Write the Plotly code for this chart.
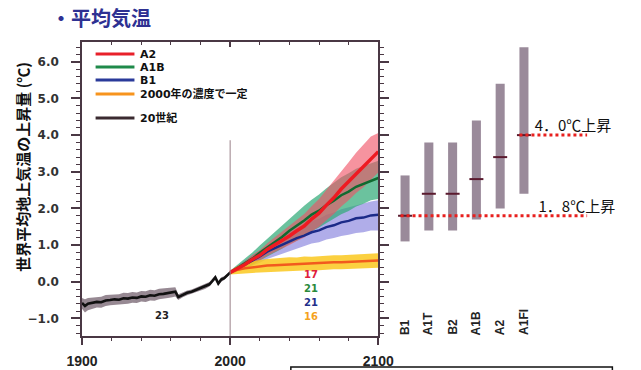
import plotly.graph_objects as go

# ---------------- data ----------------
# 20th-century global mean surface temperature change (deg C)
years_20c = [1900, 1902, 1904, 1907, 1910, 1913, 1916, 1919, 1922, 1925, 1928, 1931,
             1934, 1937, 1940, 1943, 1946, 1949, 1952, 1955, 1958, 1961, 1963, 1965,
             1968, 1971, 1974, 1977, 1980, 1983, 1986, 1988, 1990, 1992, 1994, 1996,
             1998, 2000]
mean_20c = [-0.58, -0.66, -0.60, -0.58, -0.55, -0.56, -0.51, -0.50, -0.48, -0.49, -0.45, -0.46,
            -0.43, -0.44, -0.40, -0.41, -0.37, -0.38, -0.34, -0.33, -0.30, -0.28, -0.27, -0.42,
            -0.35, -0.30, -0.27, -0.22, -0.17, -0.14, -0.07, 0.02, 0.12, -0.05, 0.06, 0.10,
            0.17, 0.25]
low_20c = [-0.74, -0.84, -0.78, -0.73, -0.70, -0.71, -0.66, -0.64, -0.63, -0.63, -0.60, -0.60,
           -0.57, -0.58, -0.54, -0.55, -0.51, -0.52, -0.48, -0.47, -0.44, -0.42, -0.40, -0.50,
           -0.42, -0.37, -0.33, -0.28, -0.23, -0.20, -0.13, -0.04, 0.06, -0.11, 0.00, 0.05,
           0.12, 0.21]
high_20c = [-0.44, -0.48, -0.44, -0.43, -0.40, -0.41, -0.36, -0.35, -0.33, -0.34, -0.30, -0.31,
            -0.28, -0.29, -0.25, -0.26, -0.22, -0.23, -0.19, -0.18, -0.15, -0.14, -0.15, -0.34,
            -0.28, -0.24, -0.21, -0.16, -0.11, -0.08, -0.01, 0.08, 0.18, 0.01, 0.12, 0.15,
            0.22, 0.29]

# Scenario projections 2000-2100
years_proj = [2000, 2005, 2010, 2015, 2020, 2025, 2030, 2035, 2040, 2045, 2050,
              2055, 2060, 2065, 2070, 2075, 2080, 2085, 2090, 2095, 2100]
a2_mean = [0.25, 0.36, 0.47, 0.61, 0.72, 0.88, 1.00, 1.14, 1.25, 1.39, 1.52,
           1.71, 1.87, 2.09, 2.29, 2.53, 2.73, 2.96, 3.14, 3.36, 3.55]
a2_low = [0.20, 0.29, 0.38, 0.49, 0.58, 0.71, 0.80, 0.91, 1.00, 1.11, 1.21,
          1.37, 1.50, 1.68, 1.85, 2.05, 2.22, 2.42, 2.58, 2.78, 2.98]
a2_high = [0.30, 0.43, 0.56, 0.73, 0.86, 1.05, 1.21, 1.38, 1.52, 1.69, 1.85,
           2.06, 2.26, 2.51, 2.75, 3.02, 3.26, 3.52, 3.73, 3.96, 4.06]
a1b_mean = [0.25, 0.37, 0.51, 0.63, 0.79, 0.93, 1.09, 1.22, 1.39, 1.52, 1.67,
            1.83, 1.94, 2.09, 2.21, 2.36, 2.46, 2.59, 2.67, 2.77, 2.83]
a1b_low = [0.20, 0.28, 0.38, 0.46, 0.58, 0.68, 0.80, 0.90, 1.03, 1.12, 1.25,
           1.38, 1.48, 1.60, 1.71, 1.84, 1.93, 2.05, 2.13, 2.22, 2.26]
a1b_high = [0.30, 0.46, 0.64, 0.80, 0.99, 1.17, 1.37, 1.53, 1.73, 1.89, 2.07,
            2.24, 2.38, 2.55, 2.69, 2.85, 2.96, 3.08, 3.16, 3.24, 3.30]
b1_mean = [0.25, 0.36, 0.46, 0.59, 0.69, 0.82, 0.91, 1.02, 1.09, 1.19, 1.26,
           1.35, 1.40, 1.49, 1.54, 1.62, 1.66, 1.73, 1.75, 1.81, 1.83]
b1_low = [0.20, 0.28, 0.35, 0.45, 0.52, 0.62, 0.69, 0.78, 0.84, 0.92, 0.97,
          1.04, 1.08, 1.15, 1.19, 1.25, 1.28, 1.33, 1.35, 1.40, 1.40]
b1_high = [0.30, 0.44, 0.57, 0.73, 0.86, 1.01, 1.13, 1.26, 1.35, 1.46, 1.55,
           1.66, 1.72, 1.83, 1.89, 1.98, 2.03, 2.10, 2.13, 2.19, 2.22]
const_mean = [0.25, 0.33, 0.37, 0.40, 0.42, 0.44, 0.45, 0.46, 0.48, 0.47, 0.50,
              0.49, 0.51, 0.52, 0.53, 0.53, 0.54, 0.55, 0.56, 0.56, 0.58]
const_low = [0.20, 0.22, 0.23, 0.24, 0.25, 0.26, 0.27, 0.27, 0.29, 0.28, 0.31,
             0.30, 0.32, 0.33, 0.34, 0.34, 0.35, 0.36, 0.37, 0.37, 0.38]
const_high = [0.30, 0.43, 0.51, 0.56, 0.59, 0.62, 0.64, 0.65, 0.67, 0.66, 0.69,
              0.68, 0.70, 0.71, 0.72, 0.72, 0.73, 0.74, 0.75, 0.76, 0.78]

# Number of models per experiment
n_models_20c = "23"
n_models_labels = ["17", "21", "21", "16"]

# Warming by 2090-2099 per SRES scenario: best estimate and likely range
scenarios = ["B1", "A1T", "B2", "A1B", "A2", "A1FI"]
best_est = [1.8, 2.4, 2.4, 2.8, 3.4, 4.0]
range_low = [1.1, 1.4, 1.4, 1.7, 2.0, 2.4]
range_high = [2.9, 3.8, 3.8, 4.4, 5.4, 6.4]

legend_labels = ["A2", "A1B", "B1", "2000年の濃度で一定", "20世紀"]
divider_year = 2000

# ---------------- layout helpers ----------------
W, H = 641, 370
ML, MR, MT, MB = 82, 0, 42, 34
PW, PH = W - ML - MR, H - MT - MB


def px(x):
    return (x - ML) / PW


def py(y):
    return (H - MB - y) / PH


Y_RANGE = [-1.48, 6.54]
X3_RANGE = [-0.8, 9.25]
X3_LEFT = 395
BAR_W = 0.38

AX = "#4a3844"
NUM_FONT = "DejaVu Sans, Noto Sans CJK JP"
JP_FONT = "Noto Sans CJK JP, DejaVu Sans"


def x3_of(pxv):
    return (pxv - X3_LEFT) / (W - X3_LEFT) * (X3_RANGE[1] - X3_RANGE[0]) + X3_RANGE[0]


fig = go.Figure()


def band(x, lo, hi, color):
    fig.add_trace(go.Scatter(x=x, y=lo, mode="lines", line=dict(width=0),
                             hoverinfo="skip", showlegend=False))
    fig.add_trace(go.Scatter(x=x, y=hi, mode="lines", line=dict(width=0),
                             fill="tonexty", fillcolor=color,
                             hoverinfo="skip", showlegend=False))


def line(x, y, color, width, yaxis="y"):
    fig.add_trace(go.Scatter(x=x, y=y, mode="lines", yaxis=yaxis,
                             line=dict(color=color, width=width),
                             showlegend=False))


# uncertainty bands
band(years_20c, low_20c, high_20c, "rgba(125,108,120,0.8)")
band(years_proj, b1_low, b1_high, "rgba(150,145,225,0.75)")
band(years_proj, a1b_low, a1b_high, "rgba(50,170,120,0.72)")
band(years_proj, a2_low, a2_high, "rgba(240,80,100,0.62)")
band(years_proj, const_low, const_high, "rgba(250,200,30,0.85)")

# ensemble means
line(years_20c, mean_20c, "#111111", 2.6)
line(years_proj, b1_mean, "#1b2a88", 2.5)
line(years_proj, a1b_mean, "#106a30", 2.5)
line(years_proj, const_mean, "#f25a1e", 2.5)
# drawn against the right-hand axis (same range) so that axis is rendered
line(years_proj, a2_mean, "#ef1a22", 3.5, yaxis="y2")

# divider at the year 2000, on the top axis (same range)
fig.add_trace(go.Scatter(x=[divider_year, divider_year], y=[Y_RANGE[0], 3.86],
                         mode="lines", xaxis="x2", yaxis="y",
                         line=dict(color="#9a8088", width=1), showlegend=False))

# scenario range bars
idx = list(range(len(scenarios)))
fig.add_trace(go.Bar(x=idx, y=[h - l for h, l in zip(range_high, range_low)],
                     base=range_low, width=BAR_W,
                     marker=dict(color="#9a8a9a", line=dict(width=0)),
                     xaxis="x3", yaxis="y", showlegend=False))
fig.add_trace(go.Scatter(x=idx, y=best_est, mode="markers", xaxis="x3", yaxis="y",
                         marker=dict(symbol="line-ew", size=10,
                                     line=dict(width=2, color="#5a1a2e")),
                         showlegend=False))

# dotted reference lines at the lowest and highest best estimates, with labels
DOT_END = x3_of(602)
lo_i = best_est.index(min(best_est))
hi_i = best_est.index(max(best_est))
for i, label_px in ((lo_i, 552), (hi_i, 548)):
    fig.add_trace(go.Scatter(x=[idx[i] - BAR_W / 2, DOT_END], y=[best_est[i], best_est[i]],
                             mode="lines", xaxis="x3", yaxis="y",
                             line=dict(color="#e8201e", width=3, dash="dot"),
                             showlegend=False))
    txt = f"{best_est[i]:.1f}".replace(".", "．") + "℃上昇"
    fig.add_trace(go.Scatter(x=[x3_of(label_px)], y=[best_est[i]], mode="text",
                             text=[txt], textposition="top right", cliponaxis=True,
                             textfont=dict(family=JP_FONT, size=15, color="#111"),
                             xaxis="x3", yaxis="y", showlegend=False, hoverinfo="skip"))

annotations = []

# scenario names, rotated
for i, name in enumerate(scenarios):
    annotations.append(dict(x=idx[i], y=py(337), xref="x3", yref="paper", text=name,
                            textangle=-90, showarrow=False, xanchor="center", yanchor="bottom",
                            font=dict(family="Liberation Sans", size=12, color="#222", weight="bold")))

# title
annotations.append(dict(x=px(48), y=py(17), xref="paper", yref="paper", text="・平均気温",
                        showarrow=False, xanchor="left", yanchor="middle",
                        font=dict(family=JP_FONT, size=20, color="#2e3192", weight="bold")))

# y axis title
annotations.append(dict(x=px(20), y=py(167), xref="paper", yref="paper",
                        text="世界平均地上気温の上昇量 (℃)", textangle=-90, showarrow=False,
                        xanchor="center", yanchor="middle",
                        font=dict(family=JP_FONT, size=15, color="#111", weight="bold")))

# model counts
annotations.append(dict(x=px(155), y=py(323), xref="paper", yref="paper", text=n_models_20c,
                        showarrow=False, font=dict(family=NUM_FONT, size=10, color="#222", weight="bold")))
count_colors = ["#e0203a", "#2a8a3a", "#1f2f8a", "#f5a21d"]
for k, (t, c) in enumerate(zip(n_models_labels, count_colors)):
    annotations.append(dict(x=px(318), y=py(282 + 14 * k), xref="paper", yref="paper", text=t,
                            showarrow=False, font=dict(family=NUM_FONT, size=10, color=c, weight="bold")))

# legend
legend_colors = ["#e8202a", "#1f8a4a", "#2a3a9a", "#f7941d", "#3a2a30"]
legend_y = [54, 67, 80, 94, 118]
shapes = []
for lab, col, yy in zip(legend_labels, legend_colors, legend_y):
    shapes.append(dict(type="line", xref="paper", yref="paper", x0=px(96), x1=px(136),
                       y0=py(yy), y1=py(yy), line=dict(color=col, width=3)))
    annotations.append(dict(x=px(140), y=py(yy), xref="paper", yref="paper", text=lab,
                            showarrow=False, xanchor="left", yanchor="middle",
                            font=dict(family=NUM_FONT, size=11, color="#111", weight="bold")))

# open box below the panel (continues past the bottom edge)
bx0, bx1, by_top, by_bot = px(297), px(628), py(367), py(370)
shapes.append(dict(type="path", xref="paper", yref="paper",
                   path=f"M {bx0} {by_bot} L {bx0} {by_top} L {bx1} {by_top} L {bx1} {by_bot}",
                   line=dict(color="#111", width=1.5)))

main_right = px(387)
tickfont = dict(family=NUM_FONT, size=12, color="#333", weight="bold")

fig.update_layout(
    width=W, height=H, margin=dict(l=ML, r=MR, t=MT, b=MB),
    paper_bgcolor="white", plot_bgcolor="rgba(0,0,0,0)",
    showlegend=False, annotations=annotations, shapes=shapes,
    xaxis=dict(domain=[0, main_right], range=[1900, 2100], anchor="y",
               showgrid=False, zeroline=False, showline=True, linecolor=AX, linewidth=1.5,
               tickmode="array", tickvals=[1900, 2000, 2100], ticks="outside",
               ticklen=7, tickwidth=1.5, tickcolor=AX, ticklabelstandoff=4,
               tickfont=dict(family="Liberation Sans", size=14, color="#222", weight="bold"),
               minor=dict(tick0=1900, dtick=20, ticks="outside", ticklen=3,
                          tickcolor=AX, tickwidth=1)),
    xaxis2=dict(overlaying="x", side="top", anchor="y", range=[1900, 2100],
                showgrid=False, zeroline=False, showline=True, linecolor=AX, linewidth=1.5,
                tickmode="array", tickvals=[2000], ticks="inside", ticklen=5,
                tickcolor=AX, tickwidth=1.5, showticklabels=False,
                minor=dict(tick0=1900, dtick=20, ticks="inside", ticklen=3,
                           tickcolor=AX, tickwidth=1)),
    yaxis=dict(domain=[0, 1], range=Y_RANGE, anchor="x", showgrid=False, zeroline=False,
               showline=True, linecolor=AX, linewidth=1.5, tickmode="linear", tick0=0,
               dtick=1, tickformat=".1f", ticks="outside", ticklen=9, tickwidth=1.5,
               tickcolor=AX, tickfont=tickfont, ticklabelstandoff=10,
               minor=dict(tick0=0, dtick=0.2, ticks="outside", ticklen=4,
                          tickcolor=AX, tickwidth=1)),
    yaxis2=dict(overlaying="y", side="right", anchor="x", range=Y_RANGE, showgrid=False,
                zeroline=False, showline=True, linecolor=AX, linewidth=1.5,
                tickmode="linear", tick0=0, dtick=1, ticks="outside", ticklen=9,
                tickwidth=1.5, tickcolor=AX, showticklabels=False,
                minor=dict(tick0=0, dtick=0.2, ticks="outside", ticklen=4,
                           tickcolor=AX, tickwidth=1)),
    xaxis3=dict(domain=[px(X3_LEFT), 1], range=X3_RANGE, anchor="y", visible=False),
)

fig.write_html("out.html")
